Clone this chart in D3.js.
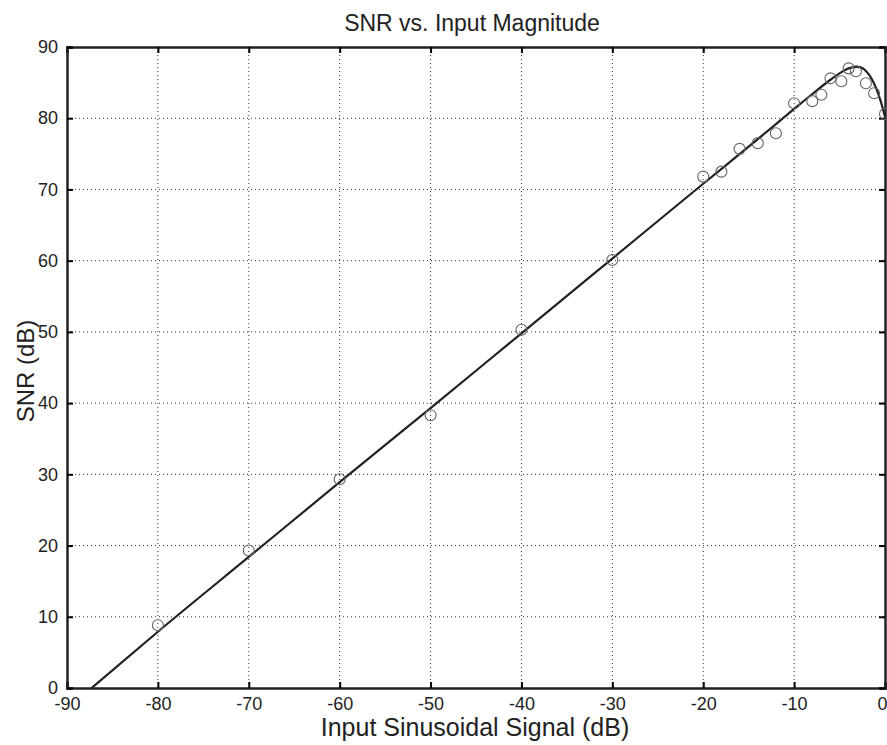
<!DOCTYPE html>
<html>
<head>
<meta charset="utf-8">
<script src="https://cdn.jsdelivr.net/npm/d3@7"></script>
<style>
  html, body { margin: 0; padding: 0; background: #fff; }
  svg { display: block; }
  text { font-family: "Liberation Sans", Arial, sans-serif; fill: #222; }
</style>
</head>
<body>
<svg id="chart" width="887" height="745"></svg>
<script>
// ---- data ----
const xTicks = [-90, -80, -70, -60, -50, -40, -30, -20, -10, 0];
const yTicks = [0, 10, 20, 30, 40, 50, 60, 70, 80, 90];

// measured SNR (circles)
const measX = [-80, -70, -60, -50, -40, -30, -20, -18, -16, -14, -12, -10, -8, -7, -6, -4.8, -4, -3.2, -2.1, -1.2, 0];
const measY = [8.8, 19.3, 29.3, 38.3, 50.3, 60.1, 71.8, 72.5, 75.7, 76.5, 77.9, 82.1, 82.4, 83.3, 85.6, 85.2, 87.0, 86.6, 84.9, 83.5, 80.6];

// theoretical curve (solid line)
const curveX = [-87.3, -80, -70, -60, -50, -40, -30, -20, -15, -10, -8, -6, -5, -4, -3, -2, -1, -0.5, 0];
const curveY = [0, 7.9, 18.4, 28.9, 39.3, 49.8, 60.3, 70.8, 76.0, 81.3, 83.4, 85.4, 86.3, 87.0, 87.2, 86.5, 84.3, 82.5, 80.2];

const titleText = "SNR vs. Input Magnitude";
const xLabel = "Input Sinusoidal Signal (dB)";
const yLabel = "SNR (dB)";

// ---- layout ----
const svg = d3.select("#chart");
const L = 67, R = 885, T = 47, B = 688;

const x = d3.scaleLinear().domain([-90, 0]).range([L, R]);
const y = d3.scaleLinear().domain([0, 90]).range([B, T]);
const fmt = d => String(d); // plain hyphen-minus as in the reference

// grid
const grid = svg.append("g").attr("stroke", "#333").attr("stroke-width", 1).attr("stroke-dasharray", "1,3");
grid.selectAll("line.v").data(xTicks.slice(1, -1)).join("line")
  .attr("x1", d => x(d)).attr("x2", d => x(d)).attr("y1", T).attr("y2", B);
grid.selectAll("line.h").data(yTicks.slice(1, -1)).join("line")
  .attr("y1", d => y(d)).attr("y2", d => y(d)).attr("x1", L).attr("x2", R);

// axes (ticks inward)
const tickLen = -6;
svg.append("g").attr("transform", `translate(0,${B})`)
  .call(d3.axisBottom(x).tickValues(xTicks).tickSize(tickLen).tickPadding(9).tickFormat(fmt))
  .call(g => g.selectAll("text").attr("font-size", 18))
  .call(g => g.selectAll(".tick:last-of-type text").attr("text-anchor", "end").attr("dx", 2))
  .call(g => g.select(".domain").attr("stroke-width", 2.5));
svg.append("g").attr("transform", `translate(0,${T})`)
  .call(d3.axisTop(x).tickValues(xTicks).tickSize(tickLen).tickFormat(""))
  .call(g => g.select(".domain").attr("stroke-width", 2.5));
svg.append("g").attr("transform", `translate(${L},0)`)
  .call(d3.axisLeft(y).tickValues(yTicks).tickSize(tickLen).tickPadding(9).tickFormat(fmt))
  .call(g => g.selectAll("text").attr("font-size", 18))
  .call(g => g.select(".domain").attr("stroke-width", 2.5));
svg.append("g").attr("transform", `translate(${R},0)`)
  .call(d3.axisRight(y).tickValues(yTicks).tickSize(tickLen).tickFormat(""))
  .call(g => g.select(".domain").attr("stroke-width", 2.5));
svg.selectAll(".tick line").attr("stroke-width", 2);
svg.selectAll(".domain").attr("stroke", "#222");

// curve
const pts = curveX.map((v, i) => [v, curveY[i]]);
svg.append("path").datum(pts)
  .attr("fill", "none").attr("stroke", "#222").attr("stroke-width", 2.2)
  .attr("d", d3.line().x(d => x(d[0])).y(d => y(d[1])).curve(d3.curveMonotoneX));

// circles
svg.append("g").selectAll("circle").data(measX.map((v, i) => [v, measY[i]])).join("circle")
  .attr("cx", d => x(d[0])).attr("cy", d => y(d[1])).attr("r", 5.5)
  .attr("fill", "none").attr("stroke", "#666").attr("stroke-width", 1.1);

// labels
svg.append("text").attr("x", 472).attr("y", 31).attr("text-anchor", "middle")
  .attr("font-size", 23).text(titleText);
svg.append("text").attr("x", 475).attr("y", 736).attr("text-anchor", "middle")
  .attr("font-size", 25).text(xLabel);
svg.append("text").attr("transform", `translate(34,371) rotate(-90)`).attr("text-anchor", "middle")
  .attr("font-size", 24).text(yLabel);
</script>
</body>
</html>
